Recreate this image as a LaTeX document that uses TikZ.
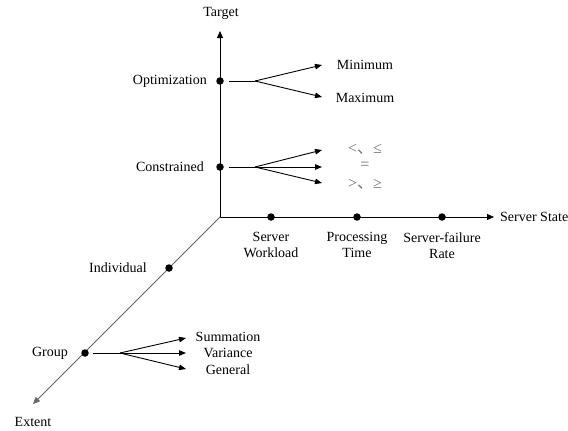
\documentclass[tikz,border=0pt]{standalone}
\usepackage{fontspec}
\setmainfont{Liberation Serif}
\newfontfamily\cjkfont{Noto Sans CJK SC}
\usetikzlibrary{arrows.meta}
\begin{document}
\begin{tikzpicture}[x=1pt,y=-1pt,
  lbl/.style={font=\fontsize{14}{16.5}\selectfont, inner sep=0pt, align=center},
  dot/.style={circle, fill=black, inner sep=0pt, minimum size=7.5pt},
  axis/.style={draw=black, line width=1pt, -{Triangle[length=7pt,width=6pt]}},
  arr/.style={draw=black, line width=0.9pt, -{Triangle[length=7pt,width=5.5pt]}},
  seg/.style={draw=black, line width=0.9pt},
  glbl/.style={font=\fontsize{16}{16}\selectfont, text=black!55, inner sep=0pt}]
\useasboundingbox (0,0) rectangle (568,431);

% axes
\coordinate (O) at (220,217);
\coordinate (Ttip) at (220,31);
\coordinate (Stip) at (494,217);
\coordinate (Etip) at (33,404);
\draw[axis] (O) -- (Ttip);
\draw[axis] (O) -- (Stip);
\draw[axis, draw=black!60, fill=black, line width=0.9pt] (O) -- (Etip);

\node[lbl] (target) at (221,13) {Target};
\node[lbl, anchor=west] (sstate) at (500,217) {Server State};
\node[lbl] (extent) at (33,422) {Extent};

% vertical axis points
\node[dot] (opt) at (220,81) {};
\node[lbl, anchor=east] (optl) at (207,81) {Optimization};
\node[dot] (con) at (220,167) {};
\node[lbl, anchor=east] (conl) at (204,167) {Constrained};

\coordinate (opts) at (229,81);
\coordinate (optb) at (255,81);
\coordinate (mint) at (322,65);
\coordinate (maxt) at (322,97);
\node[lbl] (minl) at (365,65) {Minimum};
\node[lbl] (maxl) at (365,98) {Maximum};
\draw[seg] (opts) -- (optb);
\draw[arr] (optb) -- (mint);
\draw[arr] (optb) -- (maxt);

\coordinate (cons) at (229,167);
\coordinate (conb) at (255,167);
\coordinate (c1) at (322,150);
\coordinate (c2) at (322,167);
\coordinate (c3) at (322,183);
\node[glbl] (lel) at (365,149) {<{\cjkfont 、}≤};
\node[glbl] (eql) at (365,166) {=};
\node[glbl] (gel) at (365,184) {>{\cjkfont 、}≥};
\draw[seg] (cons) -- (conb);
\draw[arr] (conb) -- (c1);
\draw[arr] (conb) -- (c2);
\draw[arr] (conb) -- (c3);

% horizontal axis points
\node[dot] (sw) at (271,217) {};
\node[dot] (pt) at (357,217) {};
\node[dot] (sf) at (442,217) {};
\node[lbl, anchor=north] (swl) at (271,232) {Server\\Workload};
\node[lbl, anchor=north] (ptl) at (357,232) {Processing\\Time};
\node[lbl, anchor=north] (sfl) at (442,232) {Server-failure\\Rate};

% diagonal axis points
\node[dot] (ind) at (169,268) {};
\node[lbl] (indl) at (118,268) {Individual};
\node[dot] (grp) at (85,353) {};
\node[lbl] (grpl) at (50,353) {Group};

\coordinate (gs) at (93,353);
\coordinate (gb) at (120,353);
\coordinate (g1) at (186,338);
\coordinate (g2) at (186,353);
\coordinate (g3) at (186,369);
\draw[seg] (gs) -- (gb);
\draw[arr] (gb) -- (g1);
\draw[arr] (gb) -- (g2);
\draw[arr] (gb) -- (g3);
\node[lbl] (suml) at (228,337) {Summation};
\node[lbl] (varl) at (228,353) {Variance};
\node[lbl] (genl) at (228,370) {General};
\end{tikzpicture}
\end{document}
